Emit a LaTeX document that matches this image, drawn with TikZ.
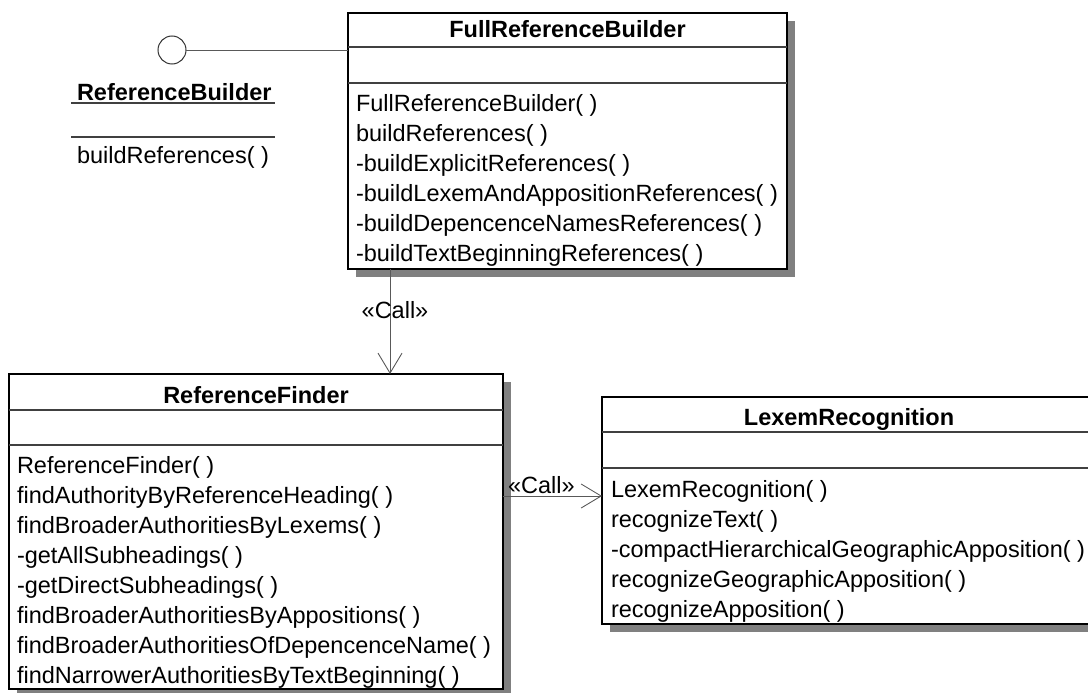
\documentclass[tikz,border=0pt]{standalone}
\usepackage{fontspec}
\setmainfont{Liberation Sans}
\usetikzlibrary{arrows.meta}
\begin{document}
\begin{tikzpicture}[x=1pt,y=-1pt,
  every node/.style={inner sep=0pt, outer sep=0pt, font=\fontsize{23.5}{30}\selectfont},
  classbox/.style={draw=black, line width=1.3pt, fill=white, anchor=north west},
  shade/.style={fill=black!50, draw=none},
  divider/.style={draw=black!75, line width=1.1pt},
  conn/.style={draw=black!65, line width=0.9pt},
  callarrow/.style={conn, -{Straight Barb[length=20pt,width=24pt,line width=0.9pt]}},
  member/.style={anchor=base west},
  title/.style={anchor=base, font=\fontsize{23.5}{30}\selectfont\bfseries}]
\useasboundingbox (0,0) rectangle (1088,693);
\clip (0,0) rectangle (1088,693);

% ---------- FullReferenceBuilder ----------
\fill[shade] (356,21) rectangle (795,277);
\node[classbox, minimum width=439pt, minimum height=256pt] (frb) at (348,13) {};
\draw[divider] (348,47) -- (787,47);
\draw[divider] (348,83) -- (787,83);
\node[title] (frbt) at (567.5,38) {FullReferenceBuilder};
\foreach [count=\i] \t in {FullReferenceBuilder( ), buildReferences( ), -buildExplicitReferences( ), -buildLexemAndAppositionReferences( ), -buildDepencenceNamesReferences( ), -buildTextBeginningReferences( )}
  \node[member] (frbm\i) at (356,81+30*\i) {\t};

% ---------- ReferenceFinder ----------
\fill[shade] (17,382) rectangle (511,697);
\node[classbox, minimum width=494pt, minimum height=315pt] (rf) at (9,374) {};
\draw[divider] (9,410) -- (503,410);
\draw[divider] (9,445) -- (503,445);
\node[title] (rft) at (256,403) {ReferenceFinder};
\foreach [count=\i] \t in {ReferenceFinder( ), findAuthorityByReferenceHeading( ), findBroaderAuthoritiesByLexems( ), -getAllSubheadings( ), -getDirectSubheadings( ), findBroaderAuthoritiesByAppositions( ), findBroaderAuthoritiesOfDepencenceName( ), findNarrowerAuthoritiesByTextBeginning( )}
  \node[member] (rfm\i) at (17,443+30*\i) {\t};

% ---------- LexemRecognition ----------
\fill[shade] (610,405) rectangle (1104,632);
\node[classbox, minimum width=494pt, minimum height=227pt] (lr) at (602,397) {};
\draw[divider] (602,432) -- (1096,432);
\draw[divider] (602,468) -- (1096,468);
\node[title] (lrt) at (849,425) {LexemRecognition};
\foreach [count=\i] \t in {LexemRecognition( ), recognizeText( ), -compactHierarchicalGeographicApposition( ), recognizeGeographicApposition( ), recognizeApposition( )}
  \node[member] (lrm\i) at (611,467+30*\i) {\t};

% ---------- ReferenceBuilder interface ----------
\node[circle, draw=black!80, line width=1pt, minimum size=28pt] (ifc) at (172,50) {};
\draw[conn] (ifc.east) -- (frb.west |- ifc.east);
\node[title, anchor=base west] (rbname) at (77,100) {ReferenceBuilder};
\draw[divider] (71,103) -- (275,103);
\draw[divider] (71,137) -- (275,137);
\node[member] (rbop) at (77,164) {buildReferences( )};

% ---------- Call dependencies ----------
\coordinate (v) at (390,300);
\draw[callarrow] (frb.south -| v) -- (rf.north -| v);
\node[anchor=base] (lbl1) at (395,318) {«Call»};
\coordinate (h) at (550,496);
\draw[callarrow] (rf.east |- h) -- (lr.west |- h);
\node[anchor=base west] (lbl2) at (508,493) {«Call»};
\end{tikzpicture}
\end{document}
